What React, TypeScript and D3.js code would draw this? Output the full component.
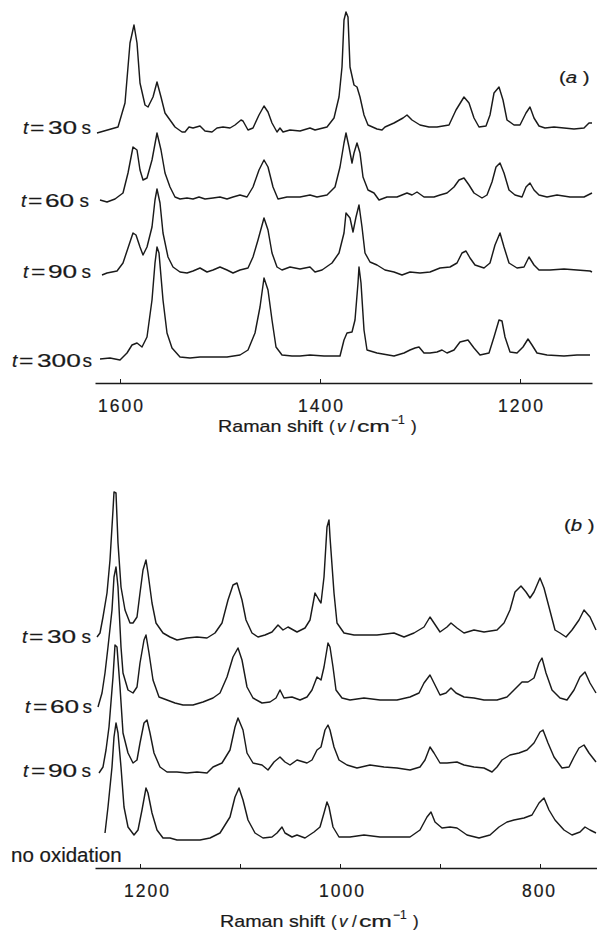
import * as d3 from 'd3';
import { useEffect, useRef } from 'react';

type Pt = [number, number];

// panel (a): wavenumber (cm-1), intensity above the trace baseline (a.u.)
const a30: Pt[] = [
  [1623, -1], [1602, 5], [1595, 29], [1590, 89], [1586, 107], [1583, 89], [1580, 49], [1575, 27],
  [1572, 25], [1567, 35], [1563, 50], [1559, 35], [1555, 19], [1550, 12], [1545, 5], [1538, 0],
  [1535, 0], [1531, 5], [1527, 4], [1520, 6], [1515, 1], [1508, 0], [1503, 4], [1497, 5],
  [1490, 4], [1485, 7], [1479, 12], [1477, 11], [1472, 2], [1467, 4], [1461, 17], [1456, 26],
  [1452, 20], [1448, 9], [1443, 0], [1440, 4], [1437, 0], [1430, 2], [1420, 1], [1410, 4],
  [1405, 2], [1393, 5], [1386, 14], [1381, 35], [1378, 65], [1376, 112], [1374, 120], [1372, 115],
  [1370, 65], [1366, 47], [1363, 45], [1360, 35], [1356, 17], [1352, 7], [1343, 3], [1338, 2],
  [1335, 5], [1326, 9], [1317, 14], [1313, 17], [1308, 12], [1300, 7], [1291, 5], [1283, 5],
  [1271, 7], [1264, 22], [1256, 35], [1251, 29], [1246, 14], [1241, 5], [1234, 6], [1230, 17],
  [1226, 39], [1221, 45], [1217, 32], [1213, 12], [1206, 7], [1200, 7], [1194, 19], [1190, 25],
  [1186, 14], [1181, 6], [1175, 4], [1166, 5], [1156, 4], [1146, 3], [1136, 4], [1131, 9], [1128, 9],
];

const a60: Pt[] = [
  [1620, -1], [1613, -3], [1605, 0], [1597, 6], [1592, 26], [1587, 52], [1583, 49], [1580, 29],
  [1577, 19], [1573, 21], [1568, 39], [1563, 66], [1559, 49], [1555, 26], [1550, 12], [1545, 2],
  [1540, 0], [1533, 1], [1527, 0], [1521, 2], [1515, 0], [1507, 1], [1500, 2], [1493, 0],
  [1487, 2], [1480, 4], [1473, 2], [1467, 12], [1461, 29], [1456, 39], [1452, 32], [1447, 12],
  [1442, 0], [1433, 2], [1420, 2], [1410, 4], [1403, 2], [1393, 4], [1385, 12], [1380, 32],
  [1376, 56], [1374, 66], [1371, 52], [1368, 36], [1366, 46], [1363, 56], [1360, 46], [1357, 22],
  [1352, 9], [1346, 6], [1341, -1], [1333, 2], [1323, 2], [1313, 6], [1308, 4], [1303, 7],
  [1296, 2], [1286, 2], [1280, 4], [1273, 6], [1266, 12], [1261, 19], [1256, 21], [1251, 14],
  [1246, 6], [1238, 1], [1233, 4], [1228, 17], [1224, 32], [1220, 36], [1216, 26], [1211, 9],
  [1205, 4], [1198, 2], [1194, 12], [1190, 16], [1186, 9], [1181, 4], [1173, 2], [1163, 4],
  [1150, 2], [1136, 2], [1128, 6],
];

const a90: Pt[] = [
  [1618, -4], [1613, -2], [1603, 0], [1597, 8], [1592, 23], [1587, 38], [1584, 36], [1580, 24],
  [1577, 16], [1573, 24], [1568, 44], [1565, 71], [1563, 82], [1560, 68], [1557, 38], [1552, 14],
  [1547, 4], [1540, -1], [1533, -2], [1527, 0], [1520, 3], [1513, -1], [1507, 1], [1500, 4],
  [1493, 1], [1487, -2], [1480, 1], [1472, 3], [1467, 14], [1462, 31], [1456, 53], [1452, 41],
  [1448, 18], [1443, 4], [1438, 1], [1430, 4], [1420, 2], [1410, 4], [1405, -1], [1398, 1],
  [1388, 8], [1381, 18], [1376, 38], [1374, 58], [1370, 53], [1367, 39], [1364, 54], [1361, 66],
  [1358, 44], [1355, 18], [1350, 9], [1343, 6], [1335, 1], [1326, -1], [1318, -4], [1310, -1],
  [1300, -2], [1290, -1], [1280, 3], [1270, 4], [1263, 8], [1258, 18], [1254, 20], [1250, 13],
  [1245, 6], [1236, 3], [1230, 8], [1225, 26], [1220, 38], [1216, 24], [1211, 8], [1203, 3],
  [1196, 4], [1191, 14], [1186, 6], [1181, 1], [1170, 1], [1156, 2], [1143, 1], [1130, 0], [1128, -1],
];

const a300: Pt[] = [
  [1620, -2], [1610, -1], [1600, -3], [1593, 4], [1588, 12], [1583, 14], [1578, 10], [1573, 20],
  [1568, 57], [1565, 94], [1563, 110], [1561, 104], [1557, 57], [1553, 24], [1548, 9], [1540, 0],
  [1530, -1], [1520, 0], [1507, 0], [1493, 0], [1480, 2], [1472, 7], [1465, 24], [1460, 50],
  [1456, 79], [1452, 67], [1448, 37], [1444, 10], [1438, 2], [1428, 1], [1420, 1], [1410, 2],
  [1396, 1], [1380, 1], [1376, 17], [1373, 24], [1368, 25], [1365, 37], [1362, 74], [1361, 90],
  [1359, 74], [1356, 27], [1353, 7], [1343, 4], [1326, 1], [1316, 4], [1310, 7], [1305, 9],
  [1301, 10], [1296, 4], [1290, 4], [1283, 5], [1278, 7], [1273, 4], [1266, 7], [1260, 15],
  [1252, 17], [1246, 9], [1240, 2], [1231, 4], [1226, 20], [1221, 37], [1218, 36], [1215, 20],
  [1210, 5], [1203, 4], [1197, 10], [1192, 18], [1188, 12], [1183, 4], [1173, 2], [1156, 1],
  [1143, 2], [1130, 2],
];

// panel (b)
const b30: Pt[] = [
  [1243, -1], [1240, 3], [1237, 19], [1233, 43], [1230, 76], [1227, 126], [1226, 144], [1224, 143],
  [1222, 93], [1219, 49], [1215, 26], [1210, 13], [1207, 13], [1203, 19], [1200, 43], [1197, 66],
  [1194, 76], [1192, 63], [1188, 33], [1184, 13], [1177, 3], [1170, -1], [1163, -4], [1153, -2],
  [1143, -1], [1133, -2], [1125, 3], [1118, 13], [1112, 36], [1107, 51], [1103, 53], [1098, 36],
  [1094, 16], [1088, 3], [1082, -1], [1075, 1], [1068, 4], [1062, 11], [1057, 6], [1052, 9],
  [1043, 4], [1035, 8], [1030, 16], [1025, 43], [1021, 36], [1019, 33], [1016, 59], [1013, 109],
  [1011, 116], [1010, 99], [1006, 43], [1003, 13], [996, 3], [986, 1], [976, 1], [963, 1],
  [946, 3], [936, -1], [926, 3], [916, 9], [910, 19], [906, 13], [900, 4], [893, 9],
  [889, 13], [883, 8], [876, 3], [866, 6], [856, 4], [843, 6], [836, 13], [830, 26],
  [825, 44], [819, 50], [814, 44], [810, 38], [806, 44], [800, 58], [796, 48], [791, 29],
  [785, 6], [780, 3], [774, -1], [768, 6], [761, 16], [756, 26], [750, 19], [744, 6],
];

const b60: Pt[] = [
  [1242, -7], [1238, 7], [1235, 27], [1232, 53], [1228, 90], [1226, 123], [1224, 133], [1222, 113],
  [1219, 53], [1217, 27], [1212, 10], [1207, 7], [1203, 13], [1200, 37], [1196, 60], [1194, 65],
  [1191, 47], [1187, 20], [1181, 3], [1173, 0], [1165, -3], [1157, -5], [1147, -5], [1137, -2],
  [1127, 2], [1120, 7], [1113, 23], [1107, 43], [1102, 52], [1098, 40], [1093, 13], [1087, 2],
  [1078, -3], [1070, -2], [1064, 2], [1060, 10], [1056, 2], [1048, 3], [1040, 0], [1033, 3],
  [1028, 10], [1023, 23], [1019, 20], [1016, 33], [1012, 57], [1010, 53], [1007, 33], [1004, 10],
  [998, 2], [990, 0], [976, 2], [960, 0], [943, 0], [930, 3], [921, 7], [916, 17],
  [910, 25], [906, 17], [900, 5], [894, 7], [889, 12], [884, 7], [876, 3], [866, 2],
  [856, 0], [843, 0], [833, 3], [826, 10], [818, 18], [812, 18], [806, 22], [801, 37],
  [798, 42], [794, 27], [788, 10], [780, 2], [773, 0], [766, 10], [760, 23], [755, 28],
  [750, 17], [744, 7],
];

const b90: Pt[] = [
  [1241, -7], [1237, -1], [1234, 16], [1231, 39], [1227, 89], [1225, 121], [1223, 119], [1220, 79],
  [1217, 33], [1212, 13], [1207, 3], [1203, 6], [1200, 23], [1196, 43], [1193, 46], [1190, 33],
  [1186, 13], [1180, -1], [1173, -6], [1163, -6], [1153, -7], [1143, -6], [1133, -7], [1127, -1],
  [1118, 3], [1110, 16], [1105, 39], [1102, 48], [1097, 36], [1093, 13], [1087, 3], [1078, 1],
  [1072, -4], [1066, 4], [1060, 9], [1055, 4], [1050, 1], [1043, 6], [1033, 3], [1028, 6],
  [1023, 16], [1019, 19], [1015, 36], [1012, 41], [1010, 36], [1006, 19], [1001, 6], [993, 1],
  [983, -2], [970, 1], [956, -1], [943, -2], [930, -4], [920, -1], [915, 6], [910, 19],
  [906, 13], [900, 3], [893, 3], [883, 4], [876, 1], [866, -1], [856, -2], [848, -6],
  [843, -1], [838, 6], [830, 11], [821, 13], [813, 16], [806, 23], [800, 34], [797, 36],
  [792, 23], [786, 9], [778, -2], [771, -1], [766, 9], [761, 18], [756, 21], [751, 13], [744, 4],
];

const bNone: Pt[] = [
  [1235, 3], [1232, 29], [1228, 69], [1226, 99], [1224, 113], [1222, 103], [1219, 69], [1216, 29],
  [1212, 9], [1206, 1], [1202, 6], [1198, 26], [1194, 48], [1192, 43], [1188, 23], [1183, 6],
  [1177, -2], [1170, -2], [1163, -4], [1153, -4], [1140, -4], [1130, -2], [1120, 3], [1110, 19],
  [1105, 39], [1101, 48], [1097, 36], [1092, 16], [1085, 3], [1077, -2], [1068, -1], [1063, 3],
  [1058, 9], [1055, 3], [1048, -1], [1043, 1], [1035, -2], [1026, 4], [1020, 9], [1016, 23],
  [1013, 34], [1011, 29], [1007, 9], [1001, -1], [990, -1], [976, 1], [960, -1], [943, -1],
  [930, -1], [920, 6], [913, 19], [909, 24], [905, 14], [898, 8], [890, 9], [883, 8],
  [873, 1], [861, -2], [850, 1], [841, 9], [833, 14], [826, 16], [816, 18], [808, 21],
  [801, 33], [796, 38], [791, 26], [785, 16], [776, 6], [768, 1], [760, 4], [755, 9],
  [750, 6], [744, 3],
];

const seriesA = [a30, a60, a90, a300];
const seriesB = [b30, b60, b90, bNone];
const offsetsA = [251, 184, 112, 26];
const offsetsB = [232, 168, 102, 32];
const labelsA = ['30', '60', '90', '300'];
const labelsB = ['30', '60', '90'];
const ticksA = [1600, 1400, 1200];
const ticksB = [1200, 1100, 1000, 900, 800];

const W = 597;
const H = 931;
const FONT = '"Liberation Sans", Arial, Helvetica, sans-serif';
const INK = '#1a1a1a';
const TEXT_STROKE = 0.2; // the scan prints the lettering a bit heavy

type PanelProps = {
  top: number;
  axisY: number;
  domain: [number, number];
  right: number;
  series: Pt[][];
  offsets: number[];
  ticks: number[];
  labelShift: (v: number) => number;
  titleX: number;
  titleY: number;
};

function AxisTitle({ x, y }: { x: number; y: number }) {
  // pieces placed one by one, the print has wide gaps round the units
  return (
    <g fontFamily={FONT} fontSize={17} fill={INK} stroke={INK} strokeWidth={TEXT_STROKE}>
      <text x={x} y={y} textLength={105} lengthAdjust='spacingAndGlyphs'>
        Raman shift
      </text>
      <text x={x + 111} y={y}>(</text>
      <text x={x + 119} y={y} fontStyle='italic'>
        v
      </text>
      <text x={x + 132} y={y}>/</text>
      <text x={x + 139} y={y} textLength={33} lengthAdjust='spacingAndGlyphs'>
        cm
      </text>
      <text x={x + 173} y={y - 8} fontSize={12}>
        −1
      </text>
      <text x={x + 193} y={y}>)</text>
    </g>
  );
}

function Panel(props: PanelProps) {
  const { top, axisY, domain, right, series, offsets, ticks, labelShift, titleX, titleY } = props;
  const gx = useRef<SVGGElement>(null);

  const x = d3.scaleLinear(domain, [95, right]);
  const y = d3.scaleLinear([0, axisY - top], [axisY, top]);

  useEffect(() => {
    if (!gx.current) return;
    const axis = d3
      .axisBottom(x)
      .tickValues(ticks)
      .tickFormat((d) => (+d % 200 === 0 ? String(d) : ''))
      .tickSizeInner(-4)
      .tickSizeOuter(0)
      .tickPadding(17);
    const g = d3.select(gx.current);
    g.call(axis);
    g.select('.domain').attr('stroke', INK).attr('stroke-width', 1.3);
    g.selectAll('.tick line').attr('stroke', INK).attr('stroke-width', 1);
    g.selectAll<SVGTextElement, number>('.tick text')
      .attr('font-family', FONT)
      .attr('font-size', 17.5)
      .attr('fill', INK)
      .attr('stroke', INK)
      .attr('stroke-width', TEXT_STROKE)
      .attr('letter-spacing', 2)
      .attr('dx', (d) => labelShift(d) + 1);
  }, [x, ticks, labelShift]);

  const line = d3
    .line<Pt>()
    .x((d) => x(d[0]))
    .curve(d3.curveLinear);

  return (
    <g>
      {series.map((s, i) => (
        <path
          key={i}
          fill='none'
          stroke={INK}
          strokeWidth={1.45}
          strokeLinejoin='round'
          d={line.y((d) => y(offsets[i] + d[1]))(s) ?? ''}
        />
      ))}
      <g ref={gx} transform={`translate(0,${axisY})`} />
      <AxisTitle x={titleX} y={titleY} />
    </g>
  );
}

type LabelPos = { t: number; eq: number; num: number; s: number; y: number };

function TimeLabel({ value, p }: { value: string; p: LabelPos }) {
  return (
    <g fontFamily={FONT} fontSize={19} fill={INK} stroke={INK} strokeWidth={TEXT_STROKE}>
      <text x={p.t} y={p.y} fontStyle='italic'>
        t
      </text>
      <text transform={`translate(${p.eq},${p.y}) scale(1.3,1)`}>=</text>
      <text transform={`translate(${p.num - 1},${p.y}) scale(1.38,1)`}>{value}</text>
      <text x={p.s - 0.5} y={p.y}>
        s
      </text>
    </g>
  );
}

const posA: LabelPos[] = [
  { t: 23, eq: 30, num: 49, s: 82, y: 134 },
  { t: 21, eq: 28, num: 46, s: 80, y: 207 },
  { t: 23, eq: 31, num: 49, s: 82, y: 278 },
  { t: 12, eq: 19, num: 38, s: 83, y: 367 },
];
const posB: LabelPos[] = [
  { t: 22, eq: 29, num: 48, s: 82, y: 643 },
  { t: 25, eq: 33, num: 51, s: 83, y: 713 },
  { t: 23, eq: 31, num: 49, s: 82, y: 777 },
];

const noShift = () => 0;
const shiftB = (v: number) => (v === 1200 ? 6 : v === 800 ? -2 : 1);

function PanelTag({ x, y, letter }: { x: number; y: number; letter: string }) {
  return (
    <text
      transform={`translate(${x},${y}) scale(1.2,1)`}
      fontFamily={FONT}
      fontSize={17}
      fill={INK}
      stroke={INK}
      strokeWidth={TEXT_STROKE}
    >
      (<tspan fontStyle='italic'>{letter}</tspan> )
    </text>
  );
}

export default function App() {
  return (
    <svg
      width={W}
      height={H}
      style={{ position: 'absolute', left: 0, top: 0, background: '#fff' }}
    >
      <rect width={W} height={H} fill='#fff' />
      <Panel
        top={0}
        axisY={383}
        domain={[1625, 1128]}
        right={592}
        series={seriesA}
        offsets={offsetsA}
        ticks={ticksA}
        labelShift={noShift}
        titleX={218}
        titleY={432}
      />
      <Panel
        top={485}
        axisY={868}
        domain={[1245, 743]}
        right={597}
        series={seriesB}
        offsets={offsetsB}
        ticks={ticksB}
        labelShift={shiftB}
        titleX={220}
        titleY={927}
      />
      {labelsA.map((l, i) => (
        <TimeLabel key={'a' + l} value={l} p={posA[i]} />
      ))}
      {labelsB.map((l, i) => (
        <TimeLabel key={'b' + l} value={l} p={posB[i]} />
      ))}
      <text
        x={11}
        y={862}
        fontFamily={FONT}
        fontSize={20.5}
        fill={INK}
        stroke={INK}
        strokeWidth={TEXT_STROKE}
      >
        no oxidation
      </text>
      <PanelTag x={559} y={83} letter='a' />
      <PanelTag x={564} y={531} letter='b' />
    </svg>
  );
}
